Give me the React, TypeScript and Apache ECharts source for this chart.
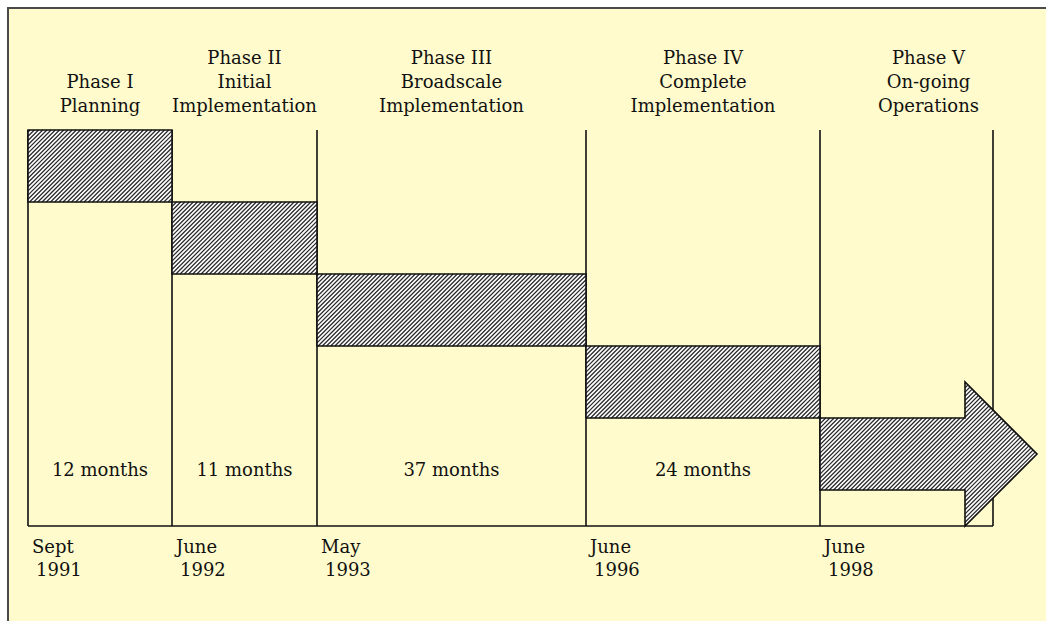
import React, { useEffect, useRef } from "react";
import * as echarts from "echarts";

// ---- data ----
const phaseTitles = [
  "Phase I\nPlanning",
  "Phase II\nInitial\nImplementation",
  "Phase III\nBroadscale\nImplementation",
  "Phase IV\nComplete\nImplementation",
  "Phase V\nOn-going\nOperations",
];
const durationLabels = ["12 months", "11 months", "37 months", "24 months", ""];
const dateMonths = ["Sept", "June", "May", "June", "June", ""];
const dateYears = ["1991", "1992", "1993", "1996", "1998", ""];
// schematic positions of the phase boundaries along the timeline (chart units)
const boundaries = [0, 144, 289, 558, 792, 965];
// the on-going phase is drawn as an arrow
const arrowHeadStart = 937;
const arrowTip = 1009;
// each phase sits one row lower than the previous one
const phaseRows = [0, 1, 2, 3, 4];

const X_MAX = 965;
const Y_MAX = 5.5;
const DURATION_ROW = 4.72;

const FONT = "DejaVu Serif";
const INK = "#111";
const HATCH = "#2a2a2a";
const BG = "#FFFBCC";

type Pt = [number, number];

// clip line x+y=c against convex polygon (Cyrus-Beck), returns segment or null
function clipDiag(poly: Pt[], c: number): [Pt, Pt] | null {
  const d: Pt = [1, -1];
  const p0: Pt = [0, c];
  let tMin = -Infinity;
  let tMax = Infinity;
  let area = 0;
  for (let i = 0; i < poly.length; i++) {
    const a = poly[i];
    const b = poly[(i + 1) % poly.length];
    area += a[0] * b[1] - b[0] * a[1];
  }
  const sgn = area > 0 ? 1 : -1;
  for (let i = 0; i < poly.length; i++) {
    const a = poly[i];
    const b = poly[(i + 1) % poly.length];
    const ex = b[0] - a[0];
    const ey = b[1] - a[1];
    const n: Pt = [-ey * sgn, ex * sgn];
    const num = n[0] * (p0[0] - a[0]) + n[1] * (p0[1] - a[1]);
    const den = n[0] * d[0] + n[1] * d[1];
    if (Math.abs(den) < 1e-9) {
      if (num < 0) return null;
    } else {
      const t = -num / den;
      if (den > 0) tMin = Math.max(tMin, t);
      else tMax = Math.min(tMax, t);
    }
  }
  if (tMin >= tMax) return null;
  return [
    [tMin, c - tMin],
    [tMax, c - tMax],
  ];
}

function hatchPath(polys: Pt[][], step: number): string {
  let s = "";
  for (const poly of polys) {
    let lo = Infinity;
    let hi = -Infinity;
    for (const p of poly) {
      lo = Math.min(lo, p[0] + p[1]);
      hi = Math.max(hi, p[0] + p[1]);
    }
    const k0 = Math.ceil(lo / step);
    const k1 = Math.floor(hi / step);
    for (let k = k0; k <= k1; k++) {
      const seg = clipDiag(poly, k * step + 0.5);
      if (seg) {
        s += `M${seg[0][0].toFixed(2)} ${seg[0][1].toFixed(2)}L${seg[1][0].toFixed(2)} ${seg[1][1].toFixed(2)}`;
      }
    }
  }
  return s;
}

export default function App() {
  const ref = useRef<HTMLDivElement>(null);

  useEffect(() => {
    if (!ref.current) return;
    const chart = echarts.init(ref.current, null, { renderer: "svg" });

    const renderBoundary = (params: any, api: any) => {
      const i = params.dataIndex;
      const b = api.value(0);
      const top = api.coord([b, 0]);
      const bottom = api.coord([b, Y_MAX]);
      const children: any[] = [
        {
          type: "line",
          shape: { x1: top[0], y1: top[1], x2: bottom[0], y2: bottom[1] },
          style: { stroke: INK, lineWidth: 1.6 },
        },
      ];
      if (i < boundaries.length - 1) {
        const next = api.coord([boundaries[i + 1], Y_MAX]);
        children.push({
          type: "line",
          shape: { x1: bottom[0], y1: bottom[1], x2: next[0], y2: next[1] },
          style: { stroke: INK, lineWidth: 1.6 },
        });
      }
      if (dateMonths[i]) {
        children.push({
          type: "text",
          x: bottom[0] + 4,
          y: bottom[1] + 20,
          style: {
            text: dateMonths[i],
            font: `18px "${FONT}"`,
            fill: INK,
            align: "left",
            verticalAlign: "middle",
          },
        });
        children.push({
          type: "text",
          x: bottom[0] + 8,
          y: bottom[1] + 43,
          style: {
            text: dateYears[i],
            font: `18px "${FONT}"`,
            fill: INK,
            align: "left",
            verticalAlign: "middle",
          },
        });
      }
      return { type: "group", children };
    };

    const renderPhase = (params: any, api: any) => {
      const i = api.value(0);
      const row = api.value(1);
      const isLast = i === phaseTitles.length - 1;
      const x0 = boundaries[i];
      const x1 = isLast ? arrowTip : boundaries[i + 1];
      const c = (v: number[]) => api.coord(v) as Pt;
      let outline: Pt[];
      let pieces: Pt[][];
      if (!isLast) {
        outline = [c([x0, row]), c([x1, row]), c([x1, row + 1]), c([x0, row + 1])];
        pieces = [outline];
      } else {
        outline = [
          c([x0, row]),
          c([arrowHeadStart, row]),
          c([arrowHeadStart, row - 0.5]),
          c([arrowTip, row + 0.5]),
          c([arrowHeadStart, row + 1.5]),
          c([arrowHeadStart, row + 1]),
          c([x0, row + 1]),
        ];
        pieces = [
          [c([x0, row]), c([arrowHeadStart, row]), c([arrowHeadStart, row + 1]), c([x0, row + 1])],
          [c([arrowHeadStart, row - 0.5]), c([arrowTip, row + 0.5]), c([arrowHeadStart, row + 1.5])],
        ];
      }
      const gridTop = c([0, 0])[1];
      const titleX = (c([x0, 0])[0] + c([x1, 0])[0]) / 2;
      const children: any[] = [
        {
          type: "polygon",
          shape: { points: outline },
          style: { fill: "#ffffff", stroke: "none" },
        },
        {
          type: "path",
          shape: { pathData: hatchPath(pieces, 4.2) },
          style: { fill: "none", stroke: HATCH, lineWidth: 1.25 },
        },
        {
          type: "polygon",
          shape: { points: outline },
          style: { fill: "none", stroke: INK, lineWidth: 1.6 },
        },
        {
          type: "text",
          x: titleX,
          y: gridTop - 13,
          style: {
            text: phaseTitles[i],
            font: `18px "${FONT}"`,
            lineHeight: 24,
            fill: INK,
            align: "center",
            verticalAlign: "bottom",
          },
        },
      ];
      if (durationLabels[i]) {
        const p = c([(x0 + boundaries[i + 1]) / 2, DURATION_ROW]);
        children.push({
          type: "text",
          x: p[0],
          y: p[1],
          style: {
            text: durationLabels[i],
            font: `18px "${FONT}"`,
            fill: INK,
            align: "center",
            verticalAlign: "middle",
          },
        });
      }
      return { type: "group", children };
    };

    chart.setOption({
      animation: false,
      graphic: [
        {
          type: "rect",
          z: -10,
          shape: { x: 8, y: 8, width: 1038, height: 613 },
          style: { fill: BG },
        },
        {
          type: "line",
          z: -9,
          shape: { x1: 7, y1: 8, x2: 1046, y2: 8 },
          style: { stroke: "#4a4a4a", lineWidth: 2 },
        },
        {
          type: "line",
          z: -9,
          shape: { x1: 8, y1: 7, x2: 8, y2: 621 },
          style: { stroke: "#4a4a4a", lineWidth: 2 },
        },
      ],
      grid: { left: 28, top: 130, width: 965, height: 396 },
      xAxis: { type: "value", min: 0, max: X_MAX, show: false },
      yAxis: { type: "value", min: 0, max: Y_MAX, inverse: true, show: false },
      series: [
        {
          type: "custom",
          name: "boundaries",
          data: boundaries.map((b) => [b]),
          renderItem: renderBoundary,
          silent: true,
          clip: false,
        },
        {
          type: "custom",
          name: "phases",
          data: phaseRows.map((r, i) => [i, r]),
          renderItem: renderPhase,
          silent: true,
          clip: false,
        },
      ],
    });

    return () => chart.dispose();
  }, []);

  return (
    <div
      ref={ref}
      style={{ position: "absolute", left: 0, top: 0, width: 1046, height: 621, background: "#fff" }}
    />
  );
}
